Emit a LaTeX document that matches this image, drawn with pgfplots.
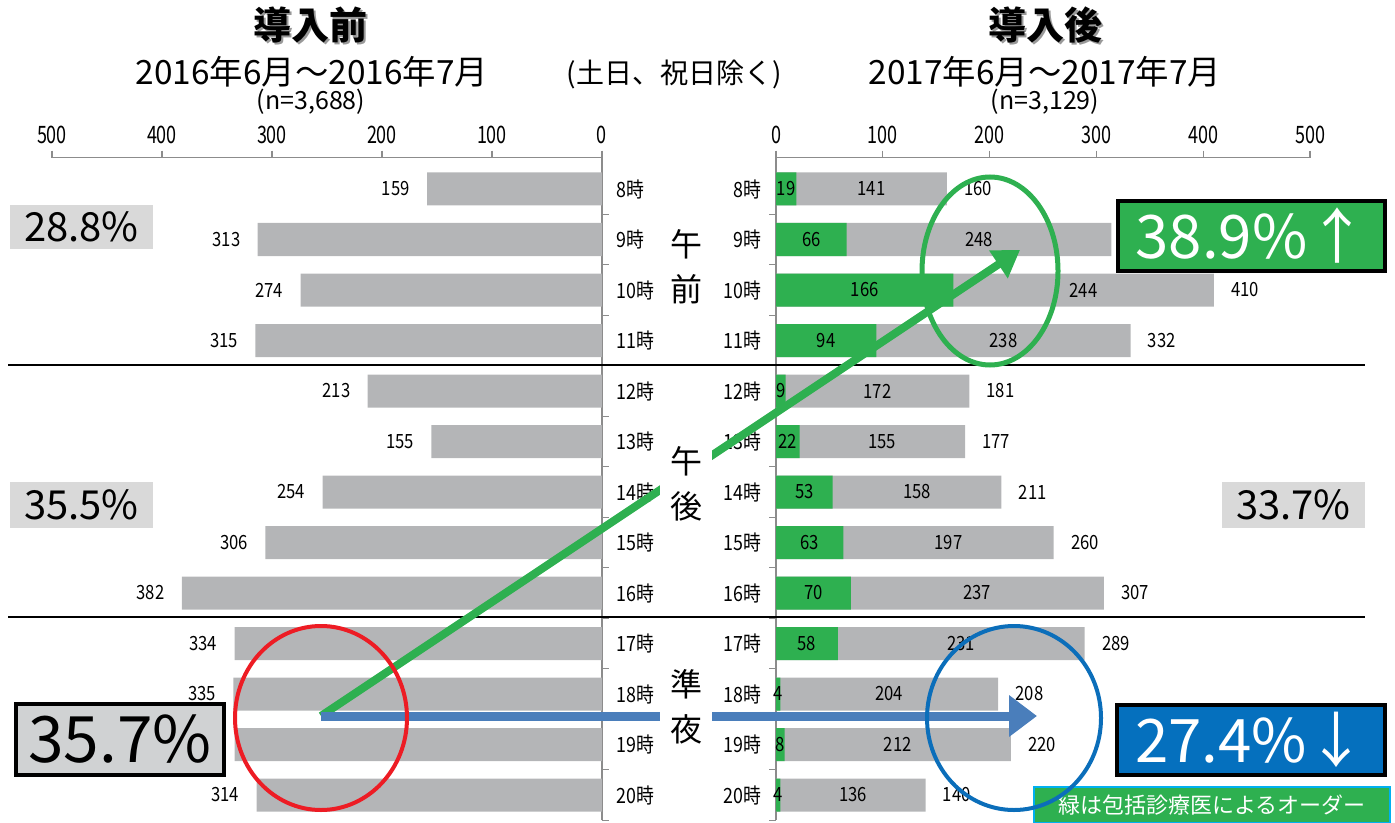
\documentclass[border=0pt]{standalone}
\usepackage{pgfplots}
\pgfplotsset{compat=1.18}
\usepackage{pgfplotstable}
\usepackage{fontspec}
\setmainfont{Noto Sans CJK JP}
\newfontfamily\narrowf[FakeStretch=0.85]{Noto Sans CJK JP}
\newfontfamily\tickf[FakeStretch=0.75]{Noto Sans CJK JP}
\usetikzlibrary{arrows.meta}
\definecolor{barGray}{RGB}{180,181,183}
\definecolor{axisGray}{RGB}{140,140,140}
\definecolor{myGreen}{RGB}{46,176,80}
\definecolor{boxGray}{RGB}{217,217,217}
\definecolor{boxGrayB}{RGB}{208,210,211}
\definecolor{myBlue}{RGB}{5,112,190}
\definecolor{arrowBlue}{RGB}{74,126,187}
\definecolor{myRed}{RGB}{237,28,36}
\definecolor{circBlue}{RGB}{11,110,186}
\definecolor{cyanBorder}{RGB}{0,176,240}

\pgfplotstableread{
y lab v
12 8時 159
11 9時 313
10 10時 274
9 11時 315
8 12時 213
7 13時 155
6 14時 254
5 15時 306
4 16時 382
3 17時 334
2 18時 335
1 19時 334
0 20時 314
}\before

\pgfplotstableread{
y lab g r tot
12 8時 19 141 160
11 9時 66 248 314
10 10時 166 244 410
9 11時 94 238 332
8 12時 9 172 181
7 13時 22 155 177
6 14時 53 158 211
5 15時 63 197 260
4 16時 70 237 307
3 17時 58 231 289
2 18時 4 204 208
1 19時 8 212 220
0 20時 4 136 140
}\after

\pgfplotsset{
  common/.style={
    scale only axis, height=331.28pt,
    xmin=0, xmax=500, ymin=-0.5, ymax=12.62,
    axis x line*=top,
    axis line style={draw=axisGray, line width=0.6pt},
    xtick={0,100,...,500},
    ytick={-0.5,0.5,...,11.5}, yticklabel={\phantom{0}},
    tick align=outside, major tick length=3.5pt,
    tick style={axisGray, line width=0.6pt},
    xticklabel style={font=\tickf\fontsize{12}{12}\selectfont},
    /pgf/number format/assume math mode=true,
    clip=false,
  },
  barplot/.style={xbar, bar width=16.5pt, bar shift=0pt, draw=none},
  lbl/.style={draw=none, mark=none, nodes near coords={\pgfplotspointmeta}, point meta=explicit symbolic},
}

\begin{document}
\begin{tikzpicture}
\path[use as bounding box] (0,0) rectangle (697.5pt,-411.5pt);

% ---------- left chart ----------
\begin{axis}[common,
  at={(26pt,-410.125pt)}, anchor=south west, width=275pt,
  x dir=reverse, axis y line*=right]
\addplot[barplot, fill=barGray] table[x=v, y=y] {\before};
\addplot[lbl, nodes near coords align={anchor=east},
  every node near coord/.append style={anchor=east, inner sep=0pt, xshift=-8.5pt, font=\narrowf\fontsize{9.8}{10}\selectfont}]
  table[x=v, y=y, meta=v] {\before};
\addplot[lbl, nodes near coords align={anchor=west},
  every node near coord/.append style={anchor=west, inner sep=0pt, xshift=7pt, font=\narrowf\fontsize{10.5}{11}\selectfont}]
  table[x expr=0, y=y, meta=lab] {\before};
\end{axis}

% ---------- right chart ----------
\begin{axis}[common,
  at={(388pt,-410.125pt)}, anchor=south west, width=267pt,
  axis y line*=left]
\addplot[barplot, fill=barGray] table[x=tot, y=y] {\after};
\addplot[barplot, fill=myGreen] table[x=g, y=y] {\after};
\addplot[lbl, nodes near coords align={anchor=center},
  every node near coord/.append style={anchor=center, inner sep=0pt, font=\narrowf\fontsize{9.8}{10}\selectfont}]
  table[x expr=\thisrow{g}/2, y=y, meta=g] {\after};
\addplot[lbl, nodes near coords align={anchor=center},
  every node near coord/.append style={anchor=center, inner sep=0pt, font=\narrowf\fontsize{9.8}{10}\selectfont}]
  table[x expr=\thisrow{g}+\thisrow{r}/2, y=y, meta=r] {\after};
\addplot[lbl, nodes near coords align={anchor=west},
  every node near coord/.append style={anchor=west, inner sep=0pt, xshift=8.5pt, font=\narrowf\fontsize{9.8}{10}\selectfont}]
  table[x=tot, y=y, meta=tot] {\after};
\addplot[lbl, nodes near coords align={anchor=east},
  every node near coord/.append style={anchor=east, inner sep=0pt, xshift=-7pt, font=\narrowf\fontsize{10.5}{11}\selectfont}]
  table[x expr=0, y=y, meta=lab] {\after};
\end{axis}

% ---------- annotations (pixel units) ----------
\begin{scope}[x=0.5pt, y=-0.5pt]
% titles
\node[text=black!40, font=\bfseries\fontsize{19}{20}\selectfont] at (312.5,27.5) {導入前};
\node[font=\bfseries\fontsize{19}{20}\selectfont] at (310,25) {導入前};
\node[text=black!40, font=\bfseries\fontsize{19}{20}\selectfont] at (1047.5,27.5) {導入後};
\node[font=\bfseries\fontsize{19}{20}\selectfont] at (1045,25) {導入後};
\node[font=\fontsize{16.7}{17}\selectfont] at (312,72) {2016年6月～2016年7月};
\node[font=\fontsize{16.7}{17}\selectfont] at (1045,72) {2017年6月～2017年7月};
\node[font=\fontsize{12.5}{13}\selectfont] at (311,102) {(n=3,688)};
\node[font=\fontsize{12.5}{13}\selectfont] at (1045,102) {(n=3,129)};
\node[font=\fontsize{14}{15}\selectfont] at (674,74) {(土日、祝日除く)};

% separators
\draw[line width=0.75pt] (8,365) -- (1365,365);
\draw[line width=0.75pt] (8,617) -- (1365,617);

% arrows
\draw[myGreen, line width=4pt, -{Triangle[length=13pt, width=16pt]}] (321,716) -- (1020,250);
\draw[arrowBlue, line width=4.5pt, -{Triangle[length=14pt, width=20pt]}] (321,716) -- (1037,716);

% middle labels
\node[fill=white, inner sep=3pt, align=center, font=\fontsize{16}{22.5}\selectfont] at (686,267) {午\\前};
\node[fill=white, inner sep=5pt, align=center, font=\fontsize{16}{22.5}\selectfont] at (686,484) {午\\後};
\node[fill=white, inner sep=5pt, align=center, font=\fontsize{16}{22.5}\selectfont] at (686,707) {準\\夜};

% percentage boxes
\fill[boxGray] (10,205) rectangle (153,249);
\node[font=\fontsize{20}{20}\selectfont] at (81.5,227) {28.8\%};
\fill[boxGray] (10,482) rectangle (153,528);
\node[font=\fontsize{20}{20}\selectfont] at (81.5,505) {35.5\%};
\fill[boxGray] (1222,482) rectangle (1365,528);
\node[font=\fontsize{20}{20}\selectfont] at (1293.5,505) {33.7\%};

\draw[fill=boxGrayB, line width=1.6pt] (16,704) rectangle (224,775);
\node[font=\fontsize{32}{32}\selectfont] at (120,739.5) {35.7\%};
\draw[fill=myGreen, line width=2pt] (1118,201) rectangle (1385,271);
\node[text=white, font=\fontsize{30}{30}\selectfont] at (1251.5,236) {38.9\%↑};
\draw[fill=myBlue, line width=2pt] (1117,705) rectangle (1385,775);
\node[text=white, font=\fontsize{30}{30}\selectfont] at (1251,740) {27.4\%↓};

% legend box
\draw[fill=myGreen, draw=cyanBorder, line width=1pt] (1034,787) rectangle (1390,823);
\node[text=white, font=\fontsize{11}{12}\selectfont] at (1212,805) {緑は包括診療医によるオーダー};

% ellipses
\draw[myGreen, line width=2.5pt] (990,271) ellipse [x radius=34pt, y radius=47pt];
\draw[myRed, line width=2pt] (321,718) ellipse [x radius=43pt, y radius=46pt];
\draw[circBlue, line width=2pt] (1014,718) ellipse [x radius=43.5pt, y radius=46pt];
\end{scope}
\end{tikzpicture}
\end{document}
